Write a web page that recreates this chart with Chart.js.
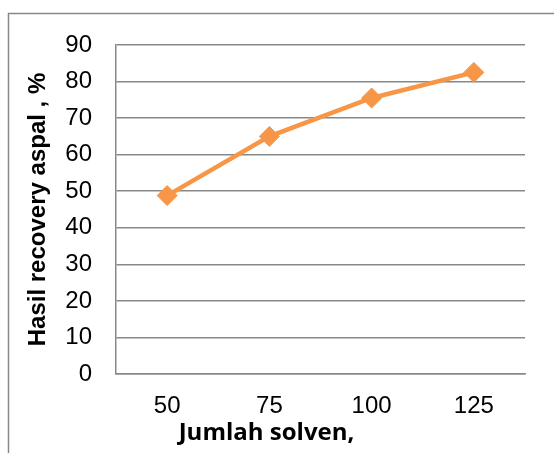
<!DOCTYPE html>
<html>
<head>
<meta charset="utf-8">
<script src="https://cdn.jsdelivr.net/npm/chart.js@4.4.1/dist/chart.umd.min.js"></script>
<style>
  html, body { margin: 0; padding: 0; background: #ffffff; }
  #wrap { width: 554px; height: 453px; position: relative; }
</style>
</head>
<body>
<div id="wrap"><canvas id="c" width="554" height="453"></canvas></div>
<script>
const categories = ['50', '75', '100', '125'];
const recovery = [48.8, 65.0, 75.5, 82.5];
const yMin = 0;
const yMax = 90;
const yStep = 10;
const xTitle = 'Jumlah solven,';
const yTitle = 'Hasil recovery aspal , %';

const framePlugin = {
  id: 'frame',
  afterDraw(chart) {
    const ctx = chart.ctx;
    const area = chart.chartArea;
    ctx.save();
    ctx.strokeStyle = '#888888';
    ctx.lineWidth = 1.5;
    ctx.beginPath();
    ctx.moveTo(8.5, 453);
    ctx.lineTo(8.5, 13.5);
    ctx.lineTo(554, 13.5);
    ctx.stroke();
    ctx.fillStyle = '#000000';
    ctx.font = 'bold 24px "Open Sans"';
    ctx.textAlign = 'center';
    ctx.textBaseline = 'alphabetic';
    ctx.fillText(xTitle, area.left + 150.5, area.bottom + 66);
    ctx.restore();
  }
};

new Chart(document.getElementById('c'), {
  type: 'line',
  data: {
    labels: categories,
    datasets: [{
      data: recovery,
      borderColor: '#F79646',
      backgroundColor: '#F79646',
      borderWidth: 4.5,
      pointStyle: 'rectRot',
      pointRadius: 10,
      pointBorderWidth: 1,
      pointBackgroundColor: '#F79646',
      pointBorderColor: '#F79646',
      tension: 0,
      fill: false
    }]
  },
  options: {
    responsive: false,
    animation: false,
    devicePixelRatio: 1,
    layout: { padding: { left: 0, right: 29, top: 45, bottom: 0 } },
    plugins: { legend: { display: false }, tooltip: { enabled: false } },
    scales: {
      x: {
        type: 'category',
        offset: true,
        grid: { display: false, drawTicks: false },
        border: { display: true, color: '#888888', width: 1.5 },
        ticks: { color: '#000000', font: { family: '"Liberation Sans", Arial, sans-serif', size: 24 }, padding: 18, maxRotation: 0 },
        afterFit(scale) { scale.height = 79; }
      },
      y: {
        min: yMin,
        max: yMax,
        ticks: { stepSize: yStep, color: '#000000', font: { family: '"Liberation Sans", Arial, sans-serif', size: 24 }, padding: 24 },
        grid: { color: '#888888', lineWidth: 1.5, drawTicks: false },
        border: { display: true, color: '#888888', width: 1.5 },
        title: {
          display: true,
          text: yTitle,
          color: '#000000',
          font: { family: '"Liberation Sans", Arial, sans-serif', size: 24, weight: 'bold' },
          padding: { top: 24, bottom: 0 }
        },
        afterFit(scale) { scale.width = 116; }
      }
    }
  },
  plugins: [framePlugin]
});
</script>
</body>
</html>
